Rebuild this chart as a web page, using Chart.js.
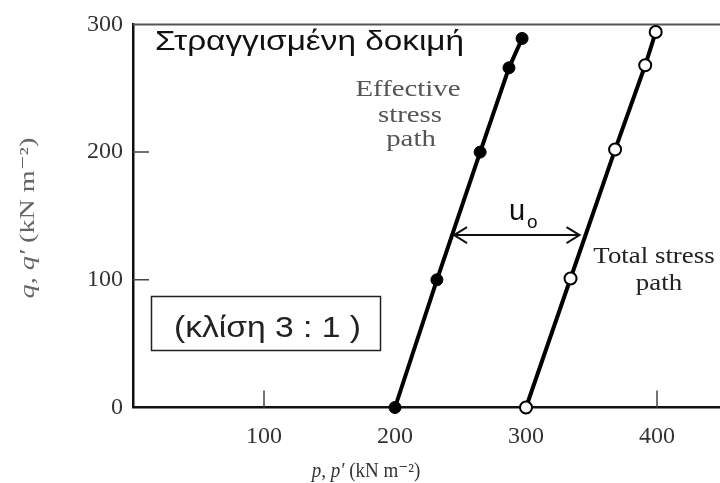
<!DOCTYPE html>
<html>
<head>
<meta charset="utf-8">
<script src="https://cdn.jsdelivr.net/npm/chart.js@4.4.0/dist/chart.umd.min.js"></script>
<style>
  html, body { margin: 0; padding: 0; background: #fff; }
  #frame { width: 720px; height: 483px; overflow: hidden; }
  #holder { width: 740px; height: 483px; }
</style>
</head>
<body>
<div id="frame"><div id="holder"><canvas id="paths"></canvas></div></div>
<script>
// Undrained test: effective and total stress paths (slope 3:1)
const effectiveP = [200, 232, 265, 287, 297];
const effectiveQ = [0, 100, 200, 266, 289];
const totalP = [300, 334, 368, 391, 399];
const totalQ = [0, 101, 202, 268, 294];
const xTicks = [100, 200, 300, 400];
const yTicks = [0, 100, 200, 300];
const arrowQ = 135; // level of the u0 arrow

const SERIF = '"Liberation Serif", "DejaVu Serif", serif';
const SANS = '"Liberation Sans", Arimo, sans-serif';

function toPoints(ps, qs) {
    return ps.map((p, i) => ({ x: p, y: qs[i] }));
}

// p on a path at a given q, by walking its segments
function pAt(ps, qs, q) {
    for (let i = 1; i < qs.length; i++) {
        if (q <= qs[i]) {
            const t = (q - qs[i - 1]) / (qs[i] - qs[i - 1]);
            return ps[i - 1] + t * (ps[i] - ps[i - 1]);
        }
    }
    return ps[ps.length - 1];
}

// text widened horizontally by sx, anchored per ctx.textAlign
function wideText(ctx, text, x, y, sx) {
    ctx.save();
    ctx.translate(x, y);
    ctx.scale(sx, 1);
    ctx.fillText(text, 0, 0);
    ctx.restore();
}

// runs of text in different fonts, centred on cx
function drawMixed(ctx, parts, cx, cy, sx) {
    ctx.save();
    ctx.translate(cx, cy);
    ctx.scale(sx, 1);
    ctx.textAlign = 'left';
    let total = 0;
    parts.forEach(p => { ctx.font = p.font; total += ctx.measureText(p.text).width; });
    let x = -total / 2;
    parts.forEach(p => {
        ctx.font = p.font;
        ctx.fillText(p.text, x, 0);
        x += ctx.measureText(p.text).width;
    });
    ctx.restore();
}

// short inward ticks and the top frame line
const innerTicks = {
    id: 'innerTicks',
    beforeDatasetsDraw(chart) {
        const { ctx, chartArea: a, scales: { x, y } } = chart;
        ctx.save();
        ctx.strokeStyle = '#444';
        ctx.lineWidth = 1.5;
        ctx.beginPath();
        [100, 400].forEach(v => {
            const px = x.getPixelForValue(v);
            ctx.moveTo(px, a.bottom);
            ctx.lineTo(px, a.bottom - 17);
        });
        [100, 200].forEach(v => {
            const py = y.getPixelForValue(v);
            ctx.moveTo(a.left, py);
            ctx.lineTo(a.left + 16, py);
        });
        ctx.stroke();
        ctx.strokeStyle = '#555';
        ctx.lineWidth = 2;
        ctx.beginPath();
        ctx.moveTo(a.left, a.top);
        ctx.lineTo(a.right, a.top);
        ctx.stroke();
        ctx.restore();
    }
};

const labels = {
    id: 'labels',
    afterDraw(chart) {
        const { ctx, scales: { x, y } } = chart;
        ctx.save();
        ctx.textBaseline = 'alphabetic';

        ctx.fillStyle = '#111';
        ctx.textAlign = 'left';
        ctx.font = '28px ' + SANS;
        wideText(ctx, 'Στραγγισμένη δοκιμή', 155, 50, 1.19);

        ctx.textAlign = 'center';
        ctx.fillStyle = '#555';
        ctx.font = '24px ' + SERIF;
        wideText(ctx, 'Effective', 408, 96, 1.2);
        wideText(ctx, 'stress', 410, 122, 1.2);
        wideText(ctx, 'path', 411, 146, 1.2);

        ctx.fillStyle = '#222';
        wideText(ctx, 'Total stress', 654, 263, 1.12);
        wideText(ctx, 'path', 659, 290, 1.12);

        // pore pressure arrow between the two paths
        const ay = y.getPixelForValue(arrowQ);
        const x1 = x.getPixelForValue(pAt(effectiveP, effectiveQ, arrowQ)) + 2;
        const x2 = x.getPixelForValue(pAt(totalP, totalQ, arrowQ)) - 6;
        ctx.strokeStyle = '#111';
        ctx.lineWidth = 2;
        ctx.beginPath();
        ctx.moveTo(x1, ay);
        ctx.lineTo(x2, ay);
        ctx.moveTo(x1 + 13, ay - 8);
        ctx.lineTo(x1, ay);
        ctx.lineTo(x1 + 13, ay + 8);
        ctx.moveTo(x2 - 13, ay - 8);
        ctx.lineTo(x2, ay);
        ctx.lineTo(x2 - 13, ay + 8);
        ctx.stroke();

        ctx.fillStyle = '#111';
        ctx.textAlign = 'left';
        ctx.font = '29px ' + SANS;
        ctx.fillText('u', 509, 220);
        ctx.font = '19px ' + SANS;
        ctx.fillText('o', 527, 228);

        // slope box
        ctx.lineWidth = 1.5;
        ctx.strokeStyle = '#222';
        ctx.strokeRect(151.5, 296.5, 229, 54);
        ctx.textAlign = 'center';
        ctx.font = '29px ' + SANS;
        ctx.fillStyle = '#222';
        wideText(ctx, '(κλίση 3 : 1 )', 267.5, 337, 1.16);

        // axis titles
        ctx.fillStyle = '#333';
        drawMixed(ctx, [
            { text: 'p, p′', font: 'italic 20px ' + SERIF },
            { text: ' (kN m⁻²)', font: '20px ' + SERIF }
        ], 366, 477, 0.95);

        ctx.fillStyle = '#666';
        ctx.translate(34, 218);
        ctx.rotate(-Math.PI / 2);
        drawMixed(ctx, [
            { text: 'q, q′', font: 'italic 22px ' + SERIF },
            { text: ' (kN m⁻²)', font: '22px ' + SERIF }
        ], 0, 0, 1.28);
        ctx.restore();
    }
};

new Chart(document.getElementById('paths'), {
    type: 'scatter',
    data: {
        datasets: [
            {
                label: 'Effective stress path',
                data: toPoints(effectiveP, effectiveQ),
                showLine: true,
                borderColor: '#000',
                borderWidth: 4,
                pointBackgroundColor: '#000',
                pointBorderColor: '#000',
                pointBorderWidth: 1,
                pointRadius: 6,
                clip: false
            },
            {
                label: 'Total stress path',
                data: toPoints(totalP, totalQ),
                showLine: true,
                borderColor: '#000',
                borderWidth: 4,
                pointBackgroundColor: '#fff',
                pointBorderColor: '#000',
                pointBorderWidth: 2,
                pointRadius: 6,
                clip: false
            }
        ]
    },
    options: {
        responsive: true,
        maintainAspectRatio: false,
        animation: false,
        layout: { padding: { left: 0, top: 23, right: 17.5, bottom: 0 } },
        plugins: {
            legend: { display: false },
            tooltip: { enabled: false }
        },
        scales: {
            x: {
                type: 'linear',
                min: 0,
                max: 450,
                afterBuildTicks: s => { s.ticks = xTicks.map(v => ({ value: v })); },
                afterFit: s => { s.height = 75.5; },
                grid: { display: false, drawTicks: false },
                border: { display: true, color: '#111', width: 2.5 },
                ticks: {
                    padding: 15,
                    color: '#333',
                    maxRotation: 0,
                    autoSkip: false,
                    font: { family: SERIF, size: 24 }
                }
            },
            y: {
                type: 'linear',
                min: 0,
                max: 300,
                afterBuildTicks: s => { s.ticks = yTicks.map(v => ({ value: v })); },
                afterFit: s => { s.width = 133; },
                grid: { display: false, drawTicks: false },
                border: { display: true, color: '#111', width: 2.5 },
                ticks: {
                    padding: 10,
                    color: '#333',
                    font: { family: SERIF, size: 24 }
                }
            }
        }
    },
    plugins: [innerTicks, labels]
});
</script>
</body>
</html>
